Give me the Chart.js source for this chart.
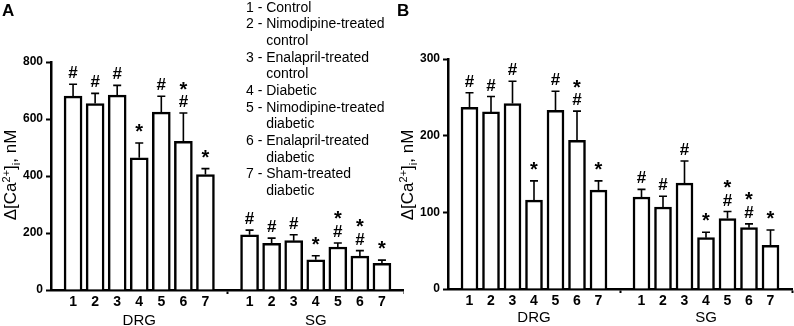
<!DOCTYPE html>
<html>
<head>
<meta charset="utf-8">
<script src="https://cdn.jsdelivr.net/npm/chart.js@4/dist/chart.umd.min.js"></script>
<style>
  html, body { margin: 0; padding: 0; background: #fff; }
  #wrap { position: relative; width: 794px; height: 326px; overflow: hidden; }
  canvas { position: absolute; top: 0; }
</style>
</head>
<body>
<div id="wrap">
  <canvas id="chartA" width="404" height="326" style="left:0"></canvas>
  <canvas id="chartB" width="400" height="326" style="left:394px"></canvas>
</div>
<script>
"use strict";

const FONT = '"Liberation Sans", Arial, sans-serif';

const barLabels = ['1', '2', '3', '4', '5', '6', '7'];
const groupLabels = ['DRG', 'SG'];
const legendLines = [
  ['1 - ', 'Control'],
  ['2 - ', 'Nimodipine-treated', 'control'],
  ['3 - ', 'Enalapril-treated', 'control'],
  ['4 - ', 'Diabetic'],
  ['5 - ', 'Nimodipine-treated', 'diabetic'],
  ['6 - ', 'Enalapril-treated', 'diabetic'],
  ['7 - ', 'Sham-treated', 'diabetic']
];

// panel A
const yTicksA = [0, 200, 400, 600, 800];
const drgA = [680, 654, 684, 464, 624, 522, 405];
const drgErrA = [42, 36, 34, 52, 56, 99, 21];
const drgMarksA = ['#', '#', '#', '*', '#', '*#', '*'];
const sgA = [194, 164, 173, 106, 151, 119, 94];
const sgErrA = [16, 18, 21, 14, 14, 19, 11];
const sgMarksA = ['#', '#', '#', '*', '*#', '*#', '*'];

// panel B
const yTicksB = [0, 100, 200, 300];
const drgB = [237, 231, 242, 116, 233, 194, 129];
const drgErrB = [19, 20, 29, 25, 25, 38, 12];
const drgMarksB = ['#', '#', '#', '*', '#', '*#', '*'];
const sgB = [120, 107, 138, 67, 92, 80, 57];
const sgErrB = [10, 14, 29, 7, 9, 5, 20];
const sgMarksB = ['#', '#', '#', '*', '*#', '*#', '*'];

// two groups on one category axis, empty slot before, between and after
const row = (a, b, gap) => [gap, ...a, gap, ...b, gap];
const xLabels = row(barLabels, barLabels, '');
const groupOf = row(barLabels.map(() => 0), barLabels.map(() => 1), null);

function drawYTitle(ctx, cx, cy) {
  const big = '17px ' + FONT, small = '11px ' + FONT;
  const parts = [['\u0394[Ca', big, 0], ['2+', small, -6], [']', big, 0], ['i', small, 4], [', nM', big, 0]];
  ctx.save();
  ctx.translate(cx, cy);
  ctx.rotate(-Math.PI / 2);
  let total = 0;
  parts.forEach(p => { ctx.font = p[1]; total += ctx.measureText(p[0]).width; });
  let x = -total / 2;
  ctx.textAlign = 'left';
  ctx.textBaseline = 'alphabetic';
  parts.forEach(p => {
    ctx.font = p[1];
    ctx.fillText(p[0], x, 6 + p[2]);
    x += ctx.measureText(p[0]).width;
  });
  ctx.restore();
}

const decor = {
  id: 'decor',
  afterDatasetsDraw(chart, args, opts) {
    const ctx = chart.ctx;
    const meta = chart.getDatasetMeta(0);
    const y = chart.scales.y;
    const values = chart.data.datasets[0].data;
    ctx.save();
    ctx.strokeStyle = '#000';
    ctx.fillStyle = '#000';
    ctx.lineWidth = 1.6;
    ctx.textAlign = 'center';
    ctx.textBaseline = 'alphabetic';
    meta.data.forEach((bar, i) => {
      if (values[i] == null) return;
      const top = y.getPixelForValue(values[i] + opts.errors[i]);
      ctx.beginPath();
      ctx.moveTo(bar.x, bar.y);
      ctx.lineTo(bar.x, top);
      ctx.moveTo(bar.x - 4, top);
      ctx.lineTo(bar.x + 4, top);
      ctx.stroke();
      let base = top - 6;
      [...opts.marks[i]].reverse().forEach((m, k) => {
        if (k > 0) base -= 11.5;
        ctx.font = (m === '*' ? 'bold 20px ' : 'bold 17px ') + FONT;
        ctx.fillText(m, bar.x, m === '*' && k === 0 ? base + 1 : base);
      });
    });

    // group names under the numbers
    ctx.font = '15px ' + FONT;
    groupLabels.forEach((name, g) => {
      const xs = meta.data.filter((b, i) => groupOf[i] === g).map(b => b.x);
      const cx = xs.reduce((s, v) => s + v, 0) / xs.length;
      ctx.fillText(name, cx, opts.groupY);
    });

    // panel letter
    ctx.font = 'bold 17px ' + FONT;
    ctx.textAlign = 'left';
    ctx.fillText(opts.letter, opts.letterX, 16);

    drawYTitle(ctx, opts.titleX, 175);

    if (opts.legend) {
      ctx.font = '14px ' + FONT;
      let line = 0;
      legendLines.forEach(item => {
        const indent = ctx.measureText(item[0]).width;
        ctx.fillText(item[0] + item[1], 246, 11.7 + line * 16.65);
        line++;
        if (item[2]) {
          ctx.fillText(item[2], 246 + indent, 11.7 + line * 16.65);
          line++;
        }
      });
    }
    ctx.restore();
  }
};

function makePanel(id, p) {
  const yTicks = p.yTicks;
  return new Chart(document.getElementById(id), {
    type: 'bar',
    data: {
      labels: xLabels,
      datasets: [{
        data: row(p.drg, p.sg, null),
        backgroundColor: '#fff',
        borderColor: '#000',
        borderWidth: 2.5,
        barThickness: p.barWidth
      }]
    },
    options: {
      responsive: false,
      animation: false,
      layout: { padding: { left: 0, right: p.padRight, top: p.padTop, bottom: 0 } },
      plugins: {
        legend: { display: false },
        tooltip: { enabled: false },
        decor: {
          errors: row(p.drgErr, p.sgErr, null),
          marks: row(p.drgMarks, p.sgMarks, ''),
          letter: p.letter,
          letterX: p.letterX,
          titleX: p.titleX,
          groupY: p.groupY,
          legend: p.legend
        }
      },
      scales: {
        x: {
          type: 'category',
          offset: false,
          grid: {
            offset: false,
            drawOnChartArea: false,
            tickLength: 4,
            tickWidth: 2,
            tickColor: c => (xLabels[c.index] === '' && c.index > 0) ? '#000' : 'rgba(0,0,0,0)'
          },
          border: { color: '#000', width: 2.5 },
          ticks: {
            autoSkip: false,
            maxRotation: 0,
            padding: 0,
            color: '#000',
            font: { family: FONT, size: 14, weight: 'bold' }
          },
          afterFit: s => { s.height = p.xHeight; }
        },
        y: {
          min: yTicks[0],
          max: yTicks[yTicks.length - 1],
          grid: { drawOnChartArea: false, tickLength: 5, tickWidth: 2, tickColor: '#000' },
          border: { color: '#000', width: 2.5 },
          ticks: {
            stepSize: yTicks[1] - yTicks[0],
            padding: 3,
            color: '#000',
            font: { family: FONT, size: 12, weight: 'bold' }
          },
          afterFit: s => { s.width = p.yWidth; }
        }
      }
    },
    plugins: [decor]
  });
}

makePanel('chartA', {
  yTicks: yTicksA, drg: drgA, drgErr: drgErrA, drgMarks: drgMarksA,
  sg: sgA, sgErr: sgErrA, sgMarks: sgMarksA,
  letter: 'A', letterX: 2, titleX: 10, legend: true,
  barWidth: 18, padTop: 62, padRight: 0, yWidth: 51, xHeight: 36, groupY: 325
});

makePanel('chartB', {
  yTicks: yTicksB, drg: drgB, drgErr: drgErrB, drgMarks: drgMarksB,
  sg: sgB, sgErr: sgErrB, sgMarks: sgMarksB,
  letter: 'B', letterX: 3, titleX: 13, legend: false,
  barWidth: 17, padTop: 59, padRight: 2, yWidth: 54, xHeight: 37, groupY: 322
});
</script>
</body>
</html>
